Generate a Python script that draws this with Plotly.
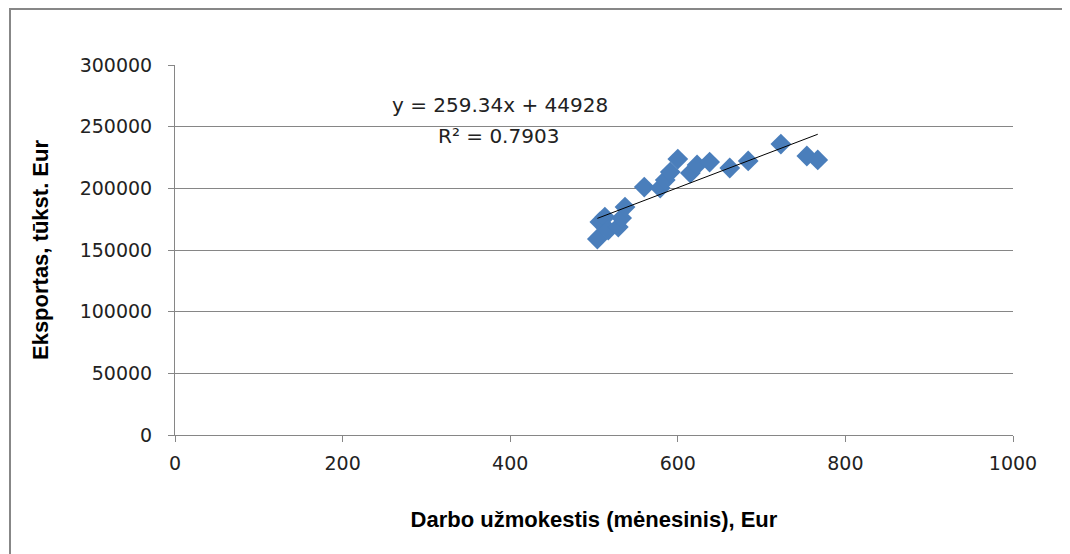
import plotly.graph_objects as go

# Data
wage = [504, 507, 513, 517, 529, 533, 537, 560, 579, 585, 591, 600, 615, 623, 638, 662, 684, 723, 754, 767]
exports = [158900, 172700, 176700, 166200, 168600, 175900, 184800, 201000, 200200, 206700,
           213200, 223700, 212400, 218900, 221300, 216500, 222200, 235900, 226200, 223000]
slope = 259.34
intercept = 44928
r2 = 0.7903
x_ticks = [0, 200, 400, 600, 800, 1000]
y_ticks = [0, 50000, 100000, 150000, 200000, 250000, 300000]

W, H = 1070, 554
OFF = 8  # page body margin
L, R, T, B = 175 - OFF, 65, 65 - OFF, 127
pw, ph = W - L - R, H - T - B

def px(x):
    return (x - OFF - L) / pw

def py(y):
    return (H - B - (y - OFF)) / ph

trend_x = [min(wage), max(wage)]
trend_y = [slope * v + intercept for v in trend_x]

fig = go.Figure()
fig.add_trace(go.Scatter(
    x=wage, y=exports, mode="markers",
    marker=dict(symbol="diamond", size=16, color="#4A7EBB", line=dict(width=0)),
    showlegend=False, hoverinfo="x+y"))
fig.add_trace(go.Scatter(
    x=trend_x, y=trend_y, mode="lines",
    line=dict(color="#000000", width=1),
    showlegend=False, hoverinfo="skip"))

tick_font = dict(family="DejaVu Sans, Verdana, sans-serif", size=19, color="#222222")
ann_font = dict(family="DejaVu Sans, Verdana, sans-serif", size=20, color="#222222")
title_font = dict(family="Liberation Sans Narrow, Liberation Sans, Arial, sans-serif", size=22, color="#000000")

fig.update_layout(
    width=W, height=H,
    margin=dict(l=L, r=R, t=T, b=B),
    paper_bgcolor="white", plot_bgcolor="white",
    xaxis=dict(
        range=[0, 1000], tickvals=x_ticks, ticktext=[str(v) for v in x_ticks],
        showgrid=False, zeroline=False,
        showline=True, linecolor="#868686", linewidth=1,
        ticks="outside", ticklen=6, tickcolor="#868686",
        tickfont=tick_font, ticklabelstandoff=5,
        title=dict(text="<b>Darbo užmokestis (mėnesinis), Eur</b>", font=title_font, standoff=38),
    ),
    yaxis=dict(
        range=[0, 300000], tickvals=y_ticks, ticktext=[str(v) for v in y_ticks],
        showgrid=True, gridcolor="#868686", gridwidth=1, zeroline=False,
        showline=True, linecolor="#868686", linewidth=1,
        ticks="outside", ticklen=6, tickcolor="#868686",
        tickfont=tick_font, ticklabelstandoff=12,
        title=dict(text="<b>Eksportas, tūkst. Eur</b>", font=title_font, standoff=24),
    ),
    annotations=[
        dict(x=px(500), y=py(105), xref="paper", yref="paper", showarrow=False,
             text=f"y = {slope}x + {intercept}", font=ann_font, xanchor="center", yanchor="middle"),
        dict(x=px(498), y=py(136), xref="paper", yref="paper", showarrow=False,
             text=f"R² = {r2}", font=ann_font, xanchor="center", yanchor="middle"),
    ],
    shapes=[
        dict(type="rect", xref="paper", yref="paper",
             x0=px(10), x1=px(1085), y0=py(575), y1=py(9),
             line=dict(color="#878787", width=2), fillcolor="rgba(0,0,0,0)", layer="below"),
    ],
)

fig.write_html("out.html")
